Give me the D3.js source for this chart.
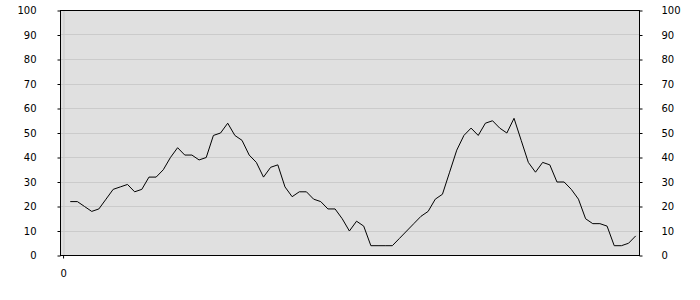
<!DOCTYPE html>
<html>
<head>
<meta charset="utf-8">
<script src="https://cdn.jsdelivr.net/npm/d3@7"></script>
<style>
  body { margin: 0; background: #fff; }
  svg text { font-family: "DejaVu Sans", Verdana, sans-serif; font-size: 10px; fill: #000; }
</style>
</head>
<body>
<svg id="chart" width="700" height="300"></svg>
<script>
// values, x = 1..80
var values = [22, 22, 20, 18, 19, 23, 27, 28, 29, 26,
              27, 32, 32, 35, 40, 44, 41, 41, 39, 40,
              49, 50, 54, 49, 47, 41, 38, 32, 36, 37,
              28, 24, 26, 26, 23, 22, 19, 19, 15, 10,
              14, 12, 4, 4, 4, 4, 7, 10, 13, 16,
              18, 23, 25, 34, 43, 49, 52, 49, 54, 55,
              52, 50, 56, 47, 38, 34, 38, 37, 30, 30,
              27, 23, 15, 13, 13, 12, 4, 4, 5, 8];
var yTicks = [0, 10, 20, 30, 40, 50, 60, 70, 80, 90, 100];
var xTicks = [0];

var svg = d3.select("#chart"),
    margin = {top: 10, right: 60, bottom: 45, left: 61},
    width = 700 - margin.left - margin.right,
    height = 300 - margin.top - margin.bottom;

var data = values.map(function(v, i) { return {x: i + 1, y: v}; });

var x = d3.scaleLinear()
    .domain([-0.36, 80.53])
    .range([0, width]);

var y = d3.scaleLinear()
    .domain([0, 100])
    .range([height, 0]);

var g = svg.append("g")
    .attr("transform", "translate(" + (margin.left - 0.5) + "," + (margin.top + 0.5) + ")");

g.append("rect")
    .attr("width", width)
    .attr("height", height)
    .attr("fill", "#e0e0e0");

// grid
g.append("g")
    .selectAll("line").data(yTicks.slice(1, -1)).enter().append("line")
    .attr("x1", 0).attr("x2", width)
    .attr("y1", function(d) { return Math.round(y(d)); })
    .attr("y2", function(d) { return Math.round(y(d)); })
    .attr("stroke", "#cbcbcb");

g.append("g")
    .selectAll("line").data(xTicks).enter().append("line")
    .attr("x1", function(d) { return Math.round(x(d)) + 0.5; })
    .attr("x2", function(d) { return Math.round(x(d)) + 0.5; })
    .attr("y1", 0).attr("y2", height)
    .attr("stroke", "#cbcbcb");

var line = d3.line()
    .x(function(d) { return x(d.x); })
    .y(function(d) { return y(d.y); });

g.append("path")
    .datum(data)
    .attr("fill", "none")
    .attr("stroke", "#000")
    .attr("stroke-width", 1)
    .attr("d", line);

// frame
g.append("rect")
    .attr("width", width)
    .attr("height", height)
    .attr("fill", "none")
    .attr("stroke", "#000");

var yLeft = d3.axisLeft(y).tickValues(yTicks).tickSize(3).tickPadding(21);
var yRight = d3.axisRight(y).tickValues(yTicks).tickSize(3).tickPadding(19);
var xBottom = d3.axisBottom(x).tickValues(xTicks).tickSize(3).tickPadding(11);

function style(sel) {
    sel.select(".domain").remove();
    sel.selectAll("text").attr("font-family", null).attr("font-size", null);
}

g.append("g").call(yLeft).call(style);
g.append("g").attr("transform", "translate(" + width + ",0)").call(yRight).call(style);
g.append("g").attr("transform", "translate(0," + height + ")").call(xBottom).call(style);
</script>
</body>
</html>
